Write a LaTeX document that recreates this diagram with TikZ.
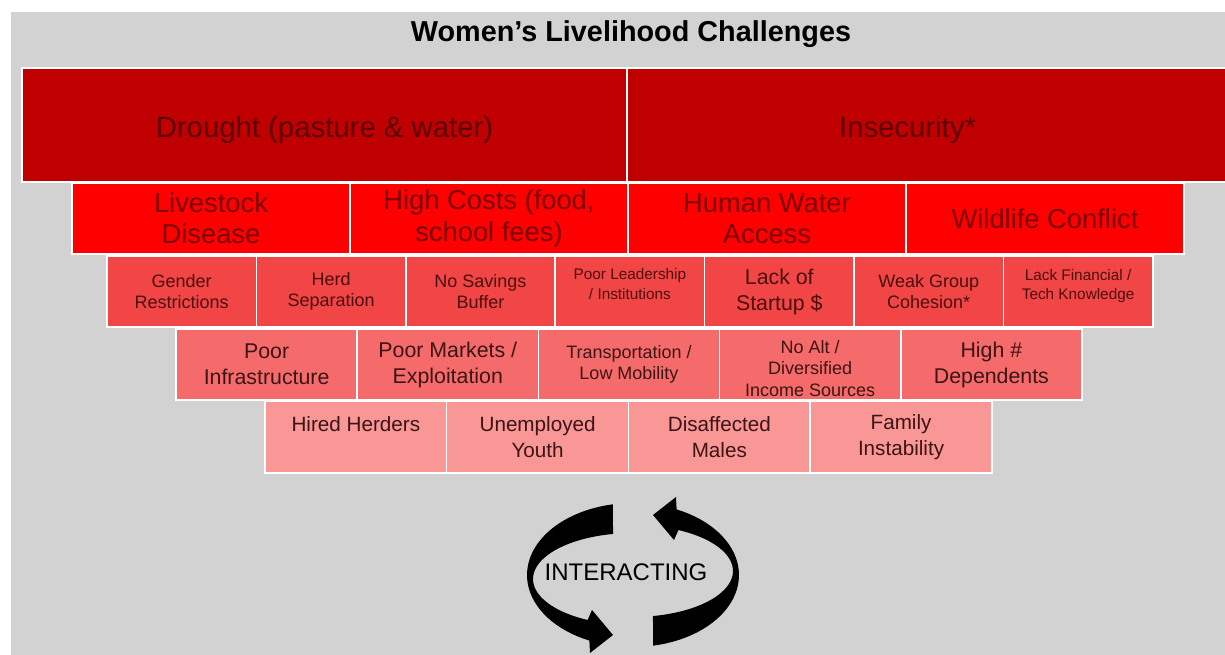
\documentclass[tikz,border=0pt]{standalone}
\usepackage{fontspec}
\setmainfont{Liberation Sans}
\usepackage{xcolor}
\usetikzlibrary{positioning}

\definecolor{bggray}{HTML}{D2D2D2}
\definecolor{tierA}{HTML}{C00000}
\definecolor{tierB}{HTML}{FE0000}
\definecolor{tierC}{HTML}{F24545}
\definecolor{tierD}{HTML}{F56B6B}
\definecolor{tierE}{HTML}{F99797}
\definecolor{inkA}{HTML}{5C0000}
\definecolor{inkB}{HTML}{7C0000}
\definecolor{inkC}{HTML}{4A0E0E}
\definecolor{inkD}{HTML}{3C1414}

% shift cell text without changing its box
\newcommand\nudge[2]{\raisebox{#1}[\height][\depth]{#2}}

\begin{document}
\begin{tikzpicture}[x=0.75pt,y=-0.75pt,node distance=0pt,
	cell/.style={draw=white,line width=1.1pt,outer sep=0pt,inner sep=0pt,align=center},
	tierA/.style={cell,fill=tierA,text=inkA,minimum width=453.75pt,minimum height=85.5pt,font=\fontsize{22}{26}\selectfont},
	tierB/.style={cell,fill=tierB,text=inkB,minimum width=208.5pt,minimum height=53.25pt,font=\fontsize{20.5}{23.5}\selectfont},
	tierC/.style={cell,fill=tierC,text=inkC,minimum width=112.05pt,minimum height=53.25pt,font=\fontsize{13.5}{16}\selectfont},
	tierD/.style={cell,fill=tierD,text=inkD,minimum width=135.9pt,minimum height=53.25pt,font=\fontsize{16}{19.5}\selectfont},
	tierE/.style={cell,fill=tierE,text=inkD,minimum width=136.3pt,minimum height=54pt,font=\fontsize{15.5}{19.5}\selectfont},
	small/.style={font=\fontsize{11.5}{14.5}\selectfont},
	mid/.style={font=\fontsize{13.5}{16}\selectfont}]
	\clip (0,0) rectangle (1225,655);
	\fill[white] (0,0) rectangle (1225,655);
	\fill[bggray] (11,12) rectangle (1225,655);

	\node[font=\bfseries\fontsize{21.6}{25}\selectfont] (title) at (631,34) {Women’s Livelihood Challenges};

	% tier 1
	\node[tierA,anchor=north west] (dr) at (22,68) {\nudge{-3.75pt}{Drought (pasture \& water)}};
	\node[tierA] (ins) [right=of dr] {\hspace*{-33pt}\nudge{-3.75pt}{Insecurity*}};

	% tier 2
	\node[tierB,anchor=north west] (lv) at (72,183) {Livestock\\Disease};
	\node[tierB] (hc) [right=of lv] {High Costs (food,\\school fees)};
	\node[tierB] (hw) [right=of hc] {Human Water\\Access};
	\node[tierB] (wc) [right=of hw] {Wildlife Conflict};

	% tier 3
	\node[tierC,anchor=north west] (gr) at (107,256) {Gender\\Restrictions};
	\node[tierC] (hs) [right=of gr] {Herd\\Separation};
	\node[tierC] (ns) [right=of hs] {No Savings\\Buffer};
	\node[tierC,small] (pl) [right=of ns] {\nudge{4.5pt}{\begin{tabular}{@{}c@{}}Poor Leadership\\/ Institutions\end{tabular}}};
	\node[tierC,font=\fontsize{16}{19.5}\selectfont] (ls) [right=of pl] {Lack of\\Startup \$};
	\node[tierC] (wg) [right=of ls] {Weak Group\\Cohesion*};
	\node[tierC,small] (lf) [right=of wg] {\nudge{4pt}{\begin{tabular}{@{}c@{}}Lack Financial /\\Tech Knowledge\end{tabular}}};

	% tier 4
	\node[tierD,anchor=north west] (pi) at (176,329) {Poor\\Infrastructure};
	\node[tierD] (pm) [right=of pi] {Poor Markets /\\Exploitation};
	\node[tierD,mid] (tm) [right=of pm] {Transportation /\\Low Mobility};
	\node[tierD,mid] (na) [right=of tm] {\nudge{-4.5pt}{\begin{tabular}{@{}c@{}}No Alt /\\Diversified\\Income Sources\end{tabular}}};
	\node[tierD] (hd) [right=of na] {High \#\\Dependents};

	% tier 5
	\node[tierE,anchor=north west] (hh) at (265,401) {\nudge{9.75pt}{Hired Herders}};
	\node[tierE] (uy) [right=of hh] {Unemployed\\Youth};
	\node[tierE] (dm) [right=of uy] {Disaffected\\Males};
	\node[tierE] (fi) [right=of dm] {Family\\Instability};

	% interacting loop
	\node[font=\fontsize{18}{22}\selectfont] (inter) at (626,572) {INTERACTING};
	\foreach \r in {0,180}
	\fill[black,rotate around={\r:(633,575)}]
		plot[domain=101:245.7,samples=40] ({633+106*cos(\x)},{575-72*sin(\x)})
		-- (590,653) -- (613,635) -- (592,610)
		-- plot[domain=243:101.5,samples=40] ({633+100*cos(\x)},{579-46*sin(\x)})
		-- cycle;
\end{tikzpicture}
\end{document}
